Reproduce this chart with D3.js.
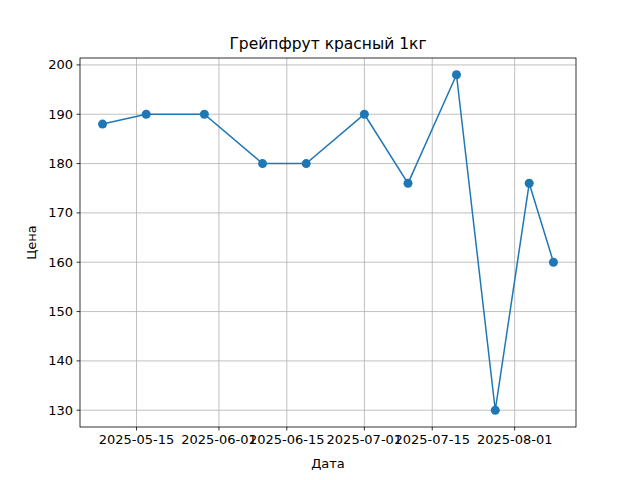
<!DOCTYPE html>
<html><head><meta charset="utf-8">
<script src="https://cdn.jsdelivr.net/npm/d3@7"></script>
<style>body{margin:0;background:#fff}</style></head>
<body><svg id="c" width="640" height="480"></svg>
<script>
const dates = ["2025-05-08","2025-05-17","2025-05-29","2025-06-10","2025-06-19","2025-07-01","2025-07-10","2025-07-20","2025-07-28","2025-08-04","2025-08-09"];
const prices = [188,190,190,180,180,190,176,198,130,176,160];
const xTicks = ["2025-05-15","2025-06-01","2025-06-15","2025-07-01","2025-07-15","2025-08-01"];
const yTicks = [130,140,150,160,170,180,190,200];

const svg = d3.select("#c");
const L=80,R=576,T=58,B=427;
const parse = d3.utcParse("%Y-%m-%d");
const ds = dates.map(parse);
const ext = d3.extent(ds), span = ext[1]-ext[0];
const x = d3.scaleUtc().domain([new Date(+ext[0]-span*0.05), new Date(+ext[1]+span*0.05)]).range([L,R]);
const yr = d3.extent(prices), ys = yr[1]-yr[0];
const y = d3.scaleLinear().domain([yr[0]-ys*0.05, yr[1]+ys*0.05]).range([B,T]);
const font = "DejaVu Sans, sans-serif";

const g = svg.append("g");
xTicks.forEach(t=>{const px=x(parse(t));
  g.append("line").attr("x1",px).attr("x2",px).attr("y1",T).attr("y2",B).attr("stroke","#b0b0b0").attr("stroke-width",0.8);
  g.append("line").attr("x1",px).attr("x2",px).attr("y1",B).attr("y2",B+3.5).attr("stroke","#000").attr("stroke-width",0.8);
  g.append("text").attr("x",px).attr("y",B+17).attr("text-anchor","middle").attr("font-family",font).attr("font-size",13).text(t);
});
yTicks.forEach(t=>{const py=y(t);
  g.append("line").attr("x1",L).attr("x2",R).attr("y1",py).attr("y2",py).attr("stroke","#b0b0b0").attr("stroke-width",0.8);
  g.append("line").attr("x1",L-3.5).attr("x2",L).attr("y1",py).attr("y2",py).attr("stroke","#000").attr("stroke-width",0.8);
  g.append("text").attr("x",L-7).attr("y",py+4.5).attr("text-anchor","end").attr("font-family",font).attr("font-size",13).text(t);
});
const line = d3.line().x((d,i)=>x(ds[i])).y(d=>y(d));
svg.append("path").datum(prices).attr("d",line).attr("fill","none").attr("stroke","#1f77b4").attr("stroke-width",1.5);
svg.selectAll("circle.p").data(prices).enter().append("circle").attr("cx",(d,i)=>x(ds[i])).attr("cy",d=>y(d)).attr("r",4.5).attr("fill","#1f77b4");
svg.append("rect").attr("x",L).attr("y",T).attr("width",R-L).attr("height",B-T).attr("fill","none").attr("stroke","#000").attr("stroke-width",0.8);
svg.append("text").attr("x",(L+R)/2).attr("y",T-9).attr("text-anchor","middle").attr("font-family",font).attr("font-size",15.5).text("Грейпфрут красный 1кг");
svg.append("text").attr("x",(L+R)/2).attr("y",468).attr("text-anchor","middle").attr("font-family",font).attr("font-size",13).text("Дата");
svg.append("text").attr("transform",`translate(36,${(T+B)/2}) rotate(-90)`).attr("text-anchor","middle").attr("font-family",font).attr("font-size",13).text("Цена");
</script></body></html>
